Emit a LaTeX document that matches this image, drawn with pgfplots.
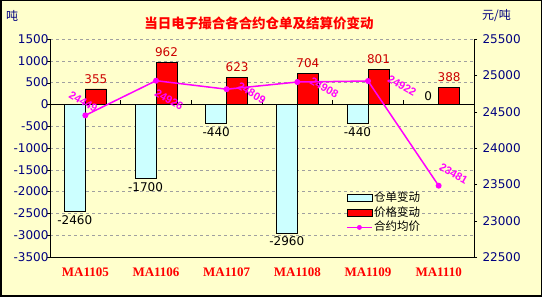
\documentclass[border=0pt]{standalone}
\usepackage{fontspec}
\usepackage{pgfplots}
\usepackage{pgfplotstable}
\pgfplotsset{compat=1.18}
\setmainfont{DejaVu Sans}
\newfontfamily\cjk{Noto Sans CJK SC}
\newfontfamily\catfont{Liberation Serif}
\newfontfamily\lblfont{Liberation Sans}
\definecolor{bgyellow}{RGB}{255,255,204}
\definecolor{barblue}{RGB}{204,255,255}
\definecolor{barred}{RGB}{255,0,0}
\definecolor{navy}{RGB}{0,0,128}
\definecolor{lblred}{RGB}{204,0,0}
\definecolor{mag}{RGB}{255,0,255}
\definecolor{gridgray}{RGB}{160,160,160}

\pgfplotsset{
  barleg/.style={draw=black, legend image code/.code={\draw[##1] (0pt,-3.5pt) rectangle (25pt,3.5pt);}},
  lineleg/.style={legend image code/.code={\draw[mag, line width=1.5pt] (0pt,0pt) -- (25pt,0pt); \fill[mag] (12.5pt,0pt) circle (2.2pt);}},
  linelbl/.style n args={2}{draw=none, mark=none, forget plot,
    point meta=explicit symbolic, nodes near coords,
    every node near coord/.append style={font=\lblfont\bfseries\fontsize{11}{11}\selectfont, text=mag,
      anchor=center, inner sep=0pt, xshift=#1, yshift=#2, rotate=-30}},
}

\pgfplotstableread{
x cang jia
0 -2460 355
1 -1700 962
2 -440 623
3 -2960 704
4 -440 801
5 0 388
}\bardata

\pgfplotstableread{
x y
0 24449
1 24926
2 24809
3 24908
4 24922
5 23481
}\linedata

\begin{document}
\begin{tikzpicture}
\draw[line width=1.5pt, fill=bgyellow] (0.75pt,0.75pt) rectangle (541.25pt,296.25pt);
\node[font=\cjk\bfseries\fontsize{13.5}{14}\selectfont, text=red] at (259pt,274pt) {当日电子撮合各合约仓单及结算价变动};
\node[font=\cjk\fontsize{12}{12}\selectfont, text=navy] at (12pt,281pt) {吨};
\node[font=\cjk\fontsize{12}{12}\selectfont, text=navy] at (496.5pt,281pt) {元/吨};

\begin{axis}[
  at={(50pt,40pt)}, anchor=south west,
  scale only axis, width=424pt, height=218pt,
  xmin=-0.5, xmax=5.5, ymin=-3500, ymax=1500,
  clip=false,
  axis x line*=bottom, axis y line*=left,
  axis line style={black, line width=0.8pt},
  xtick={0,1,2,3,4,5},
  xticklabels={MA1105,MA1106,MA1107,MA1108,MA1109,MA1110},
  x tick style={draw=none},
  xticklabel style={font=\catfont\bfseries\fontsize{13}{13}\selectfont, text=red, yshift=-4pt},
  ytick={-3500,-3000,...,1500},
  tick align=outside, major tick length=3pt,
  y tick style={black},
  yticklabel style={font=\fontsize{12}{12}\selectfont, text=navy, xshift=5pt},
  /pgf/number format/assume math mode=true,
  /pgf/number format/1000 sep={},
  ymajorgrids,
  major grid style={gridgray, dash pattern=on 3pt off 3pt, line width=0.5pt},
  extra y ticks={0}, extra y tick labels={},
  extra y tick style={grid=major, major grid style={solid, black, line width=0.8pt}},
  ybar, bar width=21pt,
]
\addplot[ybar, bar shift=-10.5pt, fill=barblue, draw=black, line width=0.6pt,
  nodes near coords,
  every node near coord/.append style={font=\fontsize{12}{12}\selectfont, text=black}]
  table[x=x, y=cang] {\bardata};
\addplot[ybar, bar shift=10.5pt, fill=barred, draw=black, line width=0.6pt,
  nodes near coords,
  every node near coord/.append style={font=\fontsize{12}{12}\selectfont, text=lblred, yshift=2pt}]
  table[x=x, y=jia] {\bardata};
\draw[black, line width=0.8pt] (axis cs:0.5,0) -- ++(0pt,4pt);
\draw[black, line width=0.8pt] (axis cs:1.5,0) -- ++(0pt,4pt);
\draw[black, line width=0.8pt] (axis cs:2.5,0) -- ++(0pt,4pt);
\draw[black, line width=0.8pt] (axis cs:3.5,0) -- ++(0pt,4pt);
\draw[black, line width=0.8pt] (axis cs:4.5,0) -- ++(0pt,4pt);
\end{axis}

\begin{axis}[
  at={(50pt,40pt)}, anchor=south west,
  scale only axis, width=424pt, height=218pt,
  xmin=-0.5, xmax=5.5, ymin=22500, ymax=25500,
  clip=false,
  axis x line=none, axis y line*=right,
  axis line style={black, line width=0.8pt},
  ytick={22500,23000,...,25500},
  scaled y ticks=false,
  yticklabel={\pgfmathprintnumber[fixed, precision=0, 1000 sep={}]{\tick}},
  tick align=outside, major tick length=3pt,
  y tick style={black},
  yticklabel style={font=\fontsize{12}{12}\selectfont, text=navy, xshift=2pt},
  /pgf/number format/assume math mode=true,
  /pgf/number format/1000 sep={},
  legend style={at={(0.698,0.303)}, anchor=north west, draw=none, fill=none,
    inner sep=0pt, row sep=0pt, font=\cjk\fontsize{11.5}{12}\selectfont,
    nodes={inner sep=1.5pt, text height=9pt, text depth=2.5pt}},
  legend cell align=left,
]
\addlegendimage{barleg, fill=barblue, line width=0.8pt}
\addlegendentry{仓单变动}
\addlegendimage{barleg, fill=barred, line width=0.8pt}
\addlegendentry{价格变动}
\addlegendimage{lineleg}
\addlegendentry{合约均价}
\addplot[mag, line width=1.5pt, mark=*, mark size=2.2pt, mark options={fill=mag, draw=mag}, forget plot]
  table[x=x, y=y] {\linedata};
\addplot[linelbl={-2pt}{14pt}] coordinates {(0,24449) [24449]};
\addplot[linelbl={13pt}{-19pt}] coordinates {(1,24926) [24926]};
\addplot[linelbl={25pt}{-4pt}] coordinates {(2,24809) [24809]};
\addplot[linelbl={27pt}{-6pt}] coordinates {(3,24908) [24908]};
\addplot[linelbl={34pt}{-5pt}] coordinates {(4,24922) [24922]};
\addplot[linelbl={15pt}{12pt}] coordinates {(5,23481) [23481]};
\end{axis}
\end{tikzpicture}
\end{document}
